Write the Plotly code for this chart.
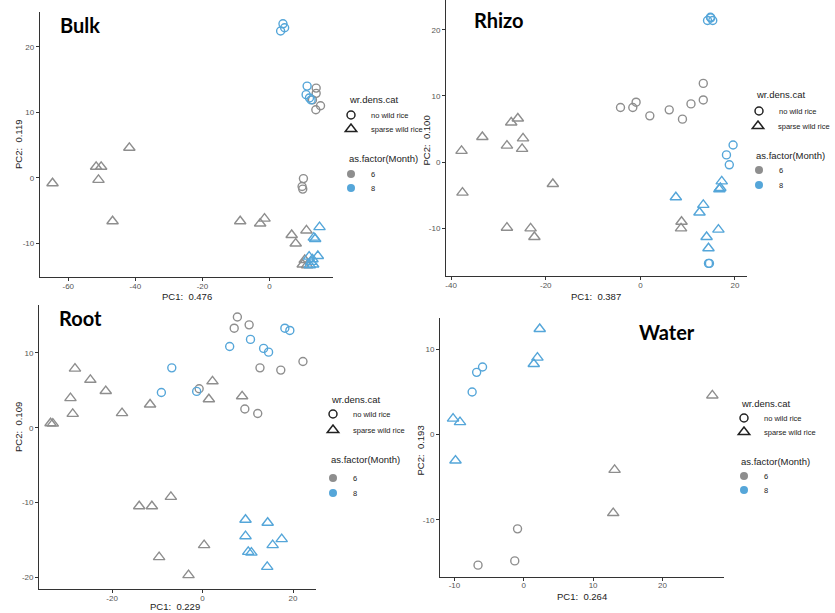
import plotly.graph_objects as go

W, H = 835, 613
GREY = "#8e8e8e"
BLUE = "#55a6d9"
AXIS = "#333333"
FONT = "Liberation Sans"

# ---------------- data: PCA scores per compartment ----------------
# Bulk soil
bulk_c6_x = [10.1, 9.7, 9.9, 13.9, 13.9, 12.8, 13.8, 15.2]
bulk_c6_y = [-0.1, -1.3, -1.7, 13.7, 12.9, 11.9, 10.4, 11.0]
bulk_c8_x = [3.3, 4.0, 4.5, 11.2, 10.9, 11.9, 12.4]
bulk_c8_y = [22.4, 23.5, 22.9, 14.0, 12.7, 12.2, 11.9]
bulk_t6_x = [-64.7, -51.7, -50.2, -51.0, -41.8, -46.8, -8.75, -2.8, -1.5, 6.6, 7.8, 11.0, 9.9, 10.5, 11.2]
bulk_t6_y = [-0.8, 1.7, 1.7, -0.3, 4.6, -6.6, -6.6, -6.95, -6.2, -8.7, -10.0, -8.0, -13.2, -12.5, -13.3]
bulk_t8_x = [14.9, 13.2, 13.6, 11.8, 12.4, 12.0, 13.0, 14.4, 12.8]
bulk_t8_y = [-7.5, -9.1, -9.3, -12.0, -12.8, -13.3, -13.2, -11.9, -12.4]

# Rhizosphere
rhizo_c6_x = [-4.2, -1.6, -0.9, 2.0, 6.1, 8.9, 10.7, 13.3, 13.3]
rhizo_c6_y = [8.25, 8.25, 9.06, 7.0, 7.9, 6.5, 8.8, 9.4, 11.9]
rhizo_c8_x = [14.2, 14.9, 15.3, 14.8, 19.6, 18.2, 18.8, 14.4, 14.6]
rhizo_c8_y = [21.4, 21.8, 21.4, 21.9, 2.6, 1.1, -0.4, -15.3, -15.3]
rhizo_t6_x = [-37.8, -37.6, -33.4, -28.2, -27.3, -25.9, -24.8, -25.0, -18.5, -28.2, -23.2, -22.4, 8.7, 8.6]
rhizo_t6_y = [1.7, -4.6, 3.8, 2.5, 6.0, 6.6, 3.6, 2.0, -3.3, -9.9, -10.0, -11.3, -9.0, -10.0]
rhizo_t8_x = [7.5, 13.3, 12.5, 17.2, 16.9, 16.7, 16.5, 14.0, 14.4]
rhizo_t8_y = [-5.3, -6.45, -7.6, -2.9, -3.9, -4.1, -10.2, -11.3, -13.0]

# Root
root_c6_x = [7.7, 7.0, 10.3, 12.7, 17.3, 22.2, -0.75, 9.35, 12.2]
root_c6_y = [14.8, 13.3, 13.75, 8.0, 7.7, 8.85, 5.2, 2.5, 1.9]
root_c8_x = [6.0, 10.6, 13.5, 14.6, 18.2, 19.3, -6.8, -9.1, -1.3]
root_c8_y = [10.85, 11.8, 10.6, 10.1, 13.3, 13.0, 8.0, 4.7, 4.85]
root_t6_x = [-33.6, -33.1, -29.2, -28.7, -28.2, -24.8, -21.4, -17.8, -11.6, 2.2, 1.4, 8.75,
             -14.0, -11.2, -7.0, -9.6, 0.35, -3.1]
root_t6_y = [0.6, 0.55, 3.95, 1.85, 7.9, 6.4, 4.9, 1.95, 3.1, 6.2, 3.8, 4.2,
             -10.5, -10.5, -9.25, -17.3, -15.7, -19.7]
root_t8_x = [9.5, 9.5, 14.4, 17.5, 15.5, 10.1, 10.8, 14.3]
root_t8_y = [-12.3, -14.5, -12.7, -14.9, -15.7, -16.6, -16.7, -18.6]

# Water
water_c6_x = [-0.9, -1.3, -6.6]
water_c6_y = [-11.05, -14.8, -15.3]
water_c8_x = [-5.95, -6.8, -7.45]
water_c8_y = [7.9, 7.27, 4.97]
water_t6_x = [27.2, 13.1, 12.9]
water_t6_y = [4.57, -4.14, -9.2]
water_t8_x = [2.3, 1.97, 1.44, -10.2, -9.2, -9.85]
water_t8_y = [12.35, 9.0, 8.25, 1.85, 1.45, -3.05]

panel_names = ["Bulk", "Rhizo", "Root", "Water"]
pc1_labels = ["PC1:  0.476", "PC1:  0.387", "PC1:  0.229", "PC1:  0.264"]
pc2_labels = ["PC2:  0.119", "PC2:  0.100", "PC2:  0.109", "PC2:  0.193"]

x_ticks = [[-60, -40, -20, 0], [-40, -20, 0, 20], [-20, 0, 20], [-10, 0, 10, 20]]
y_ticks = [[-10, 0, 10, 20], [-10, 0, 10, 20], [-20, -10, 0, 10], [-10, 0, 10]]
x_ranges = [[-68.45, 18.8], [-41.05, 22.5], [-36.1, 25.0], [-12.06, 28.9]]
y_ranges = [[-15.1, 25.3], [-17.2, 24.5], [-21.6, 16.4], [-16.65, 13.6]]

shape_title = "wr.dens.cat"
shape_levels = ["no wild rice", "sparse wild rice"]
month_title = "as.factor(Month)"
month_levels = ["6", "8"]

series = [
    [(bulk_c6_x, bulk_c6_y), (bulk_c8_x, bulk_c8_y), (bulk_t6_x, bulk_t6_y), (bulk_t8_x, bulk_t8_y)],
    [(rhizo_c6_x, rhizo_c6_y), (rhizo_c8_x, rhizo_c8_y), (rhizo_t6_x, rhizo_t6_y), (rhizo_t8_x, rhizo_t8_y)],
    [(root_c6_x, root_c6_y), (root_c8_x, root_c8_y), (root_t6_x, root_t6_y), (root_t8_x, root_t8_y)],
    [(water_c6_x, water_c6_y), (water_c8_x, water_c8_y), (water_t6_x, water_t6_y), (water_t8_x, water_t8_y)],
]

# ---------------- layout geometry (pixels) ----------------
# plot-area boxes: left, right, top, bottom
boxes = [(40, 333, 12, 277), (446.7, 747.7, 0, 276), (39.3, 316, 305, 589.3), (440.7, 725, 318.3, 576.7)]
title_pos = [(58, 25), (473, 20), (57, 318), (638, 332)]
pc1_pos = [(187, 296), (597, 296), (175, 606), (583, 596)]
pc2_pos = [(18, 144), (428, 140), (18, 427), (421, 450)]
# legend anchors: key x, title y, item ys (shape), month title y, item ys (month)
leg_geo = [
    (353, 99, (115, 129), 158, (174, 188)),
    (761, 95, (111, 126), 155, (170, 185)),
    (335, 399, (414, 430), 459, (478, 493)),
    (746, 403, (418, 432), 461, (476, 490)),
]

def px_x(v):
    return v / W

def px_y(v):
    return 1 - v / H

fig = go.Figure()
layout = dict(
    width=W, height=H, margin=dict(l=0, r=0, t=0, b=0),
    paper_bgcolor="white", plot_bgcolor="white",
    font=dict(family=FONT, color="#222"),
    annotations=[],
)

styles = [("circle-open", GREY, 8), ("circle-open", BLUE, 8),
          ("triangle-up-open", GREY, 10), ("triangle-up-open", BLUE, 10)]

leg_count = 0
for i in range(4):
    sfx = "" if i == 0 else str(i + 1)
    l, r, t, b = boxes[i]
    layout["xaxis" + sfx] = dict(
        domain=[px_x(l), px_x(r)], range=x_ranges[i], anchor="y" + sfx,
        showline=True, linecolor=AXIS, linewidth=1.3, showgrid=False, zeroline=False,
        ticks="outside", ticklen=3, tickwidth=1, tickcolor=AXIS, ticklabelstandoff=-2,
        tickvals=x_ticks[i], ticktext=[str(v) for v in x_ticks[i]],
        tickfont=dict(size=8, color="#555", family=FONT),
    )
    layout["yaxis" + sfx] = dict(
        domain=[px_y(b), px_y(t)], range=y_ranges[i], anchor="x" + sfx,
        showline=True, linecolor=AXIS, linewidth=1.3, showgrid=False, zeroline=False,
        ticks="outside", ticklen=3, tickwidth=1, tickcolor=AXIS,
        tickvals=y_ticks[i], ticktext=[str(v) for v in y_ticks[i]],
        tickfont=dict(size=8, color="#555", family=FONT),
    )
    for (xs, ys), (sym, col, size) in zip(series[i], styles):
        fig.add_trace(go.Scatter(
            x=xs, y=ys, mode="markers", xaxis="x" + sfx, yaxis="y" + sfx,
            marker=dict(symbol=sym, size=size, color=col, line=dict(width=1.4, color=col)),
            showlegend=False, hoverinfo="x+y",
        ))

    # panel title and axis titles
    tx, ty = title_pos[i]
    layout["annotations"].append(dict(
        text="<b>%s</b>" % panel_names[i], x=px_x(tx), y=px_y(ty), xref="paper", yref="paper",
        xanchor="left", yanchor="middle", showarrow=False,
        font=dict(family="Lato", size=20, color="black")))
    ax_, ay_ = pc1_pos[i]
    layout["annotations"].append(dict(
        text=pc1_labels[i], x=px_x(ax_), y=px_y(ay_), xref="paper", yref="paper",
        xanchor="center", yanchor="middle", showarrow=False,
        font=dict(size=9.5, color="#222")))
    bx_, by_ = pc2_pos[i]
    layout["annotations"].append(dict(
        text=pc2_labels[i], x=px_x(bx_), y=px_y(by_), xref="paper", yref="paper",
        xanchor="center", yanchor="middle", showarrow=False, textangle=-90,
        font=dict(size=9.5, color="#222")))

    # legends: one legend per key, titles as annotations
    kx, st_y, s_items, mt_y, m_items = leg_geo[i]
    for ttl, yy in ((shape_title, st_y), (month_title, mt_y)):
        layout["annotations"].append(dict(
            text=ttl, x=px_x(kx - 6), y=px_y(yy), xref="paper", yref="paper",
            xanchor="left", yanchor="middle", showarrow=False,
            font=dict(size=9.5, color="#222")))
    keys = [
        (shape_levels[0], dict(symbol="circle-open", size=8, color="#222", line=dict(width=1.5, color="#222")), s_items[0]),
        (shape_levels[1], dict(symbol="triangle-up-open", size=10, color="#222", line=dict(width=1.5, color="#222")), s_items[1]),
        (month_levels[0], dict(symbol="circle", size=8, color=GREY), m_items[0]),
        (month_levels[1], dict(symbol="circle", size=8, color=BLUE), m_items[1]),
    ]
    for name, mk, yy in keys:
        leg_count += 1
        lname = "legend" if leg_count == 1 else "legend%d" % leg_count
        fig.add_trace(go.Scatter(
            x=[None], y=[None], mode="markers", marker=mk, name=name,
            legend=lname, showlegend=True, xaxis="x" + sfx, yaxis="y" + sfx))
        layout[lname] = dict(
            x=px_x(kx - 22), y=px_y(yy), xanchor="left", yanchor="middle",
            bgcolor="rgba(0,0,0,0)", borderwidth=0, itemclick=False,
            font=dict(size=7.5, color="#222", family=FONT),
        )

fig.update_layout(**layout)
fig.write_html("out.html")
